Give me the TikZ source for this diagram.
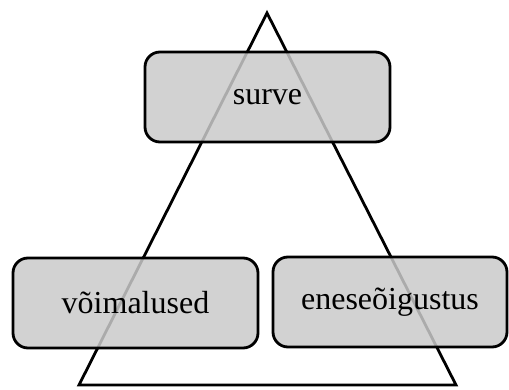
\documentclass[tikz,border=0pt]{standalone}
\usepackage{fontspec}
\setmainfont{Liberation Serif}
\definecolor{boxgray}{RGB}{202,202,202}
\begin{document}
\begin{tikzpicture}[x=1pt,y=-1pt,
  box/.style={draw=black, line width=2.8pt, rounded corners=15pt, fill=boxgray, fill opacity=0.85, text opacity=1, inner sep=0pt, font=\fontsize{32}{38}\selectfont},
  tri/.style={draw=black, line width=2.8pt, line join=miter}]
\useasboundingbox (0,0) rectangle (509,390);
\coordinate (apex) at (267,13);
\coordinate (bl) at (79,385);
\coordinate (br) at (456,385);
\draw[tri] (apex) -- (bl) -- (br) -- cycle;
\node[box, minimum width=245pt, minimum height=90pt] (surve) at (267.5,97) {surve};
\node[box, minimum width=245pt, minimum height=90pt] (voim) at (135.5,303) {võimalused};
\node[box, minimum width=234pt, minimum height=90pt] (enes) at (390,302) {eneseõigustus};
\end{tikzpicture}
\end{document}
